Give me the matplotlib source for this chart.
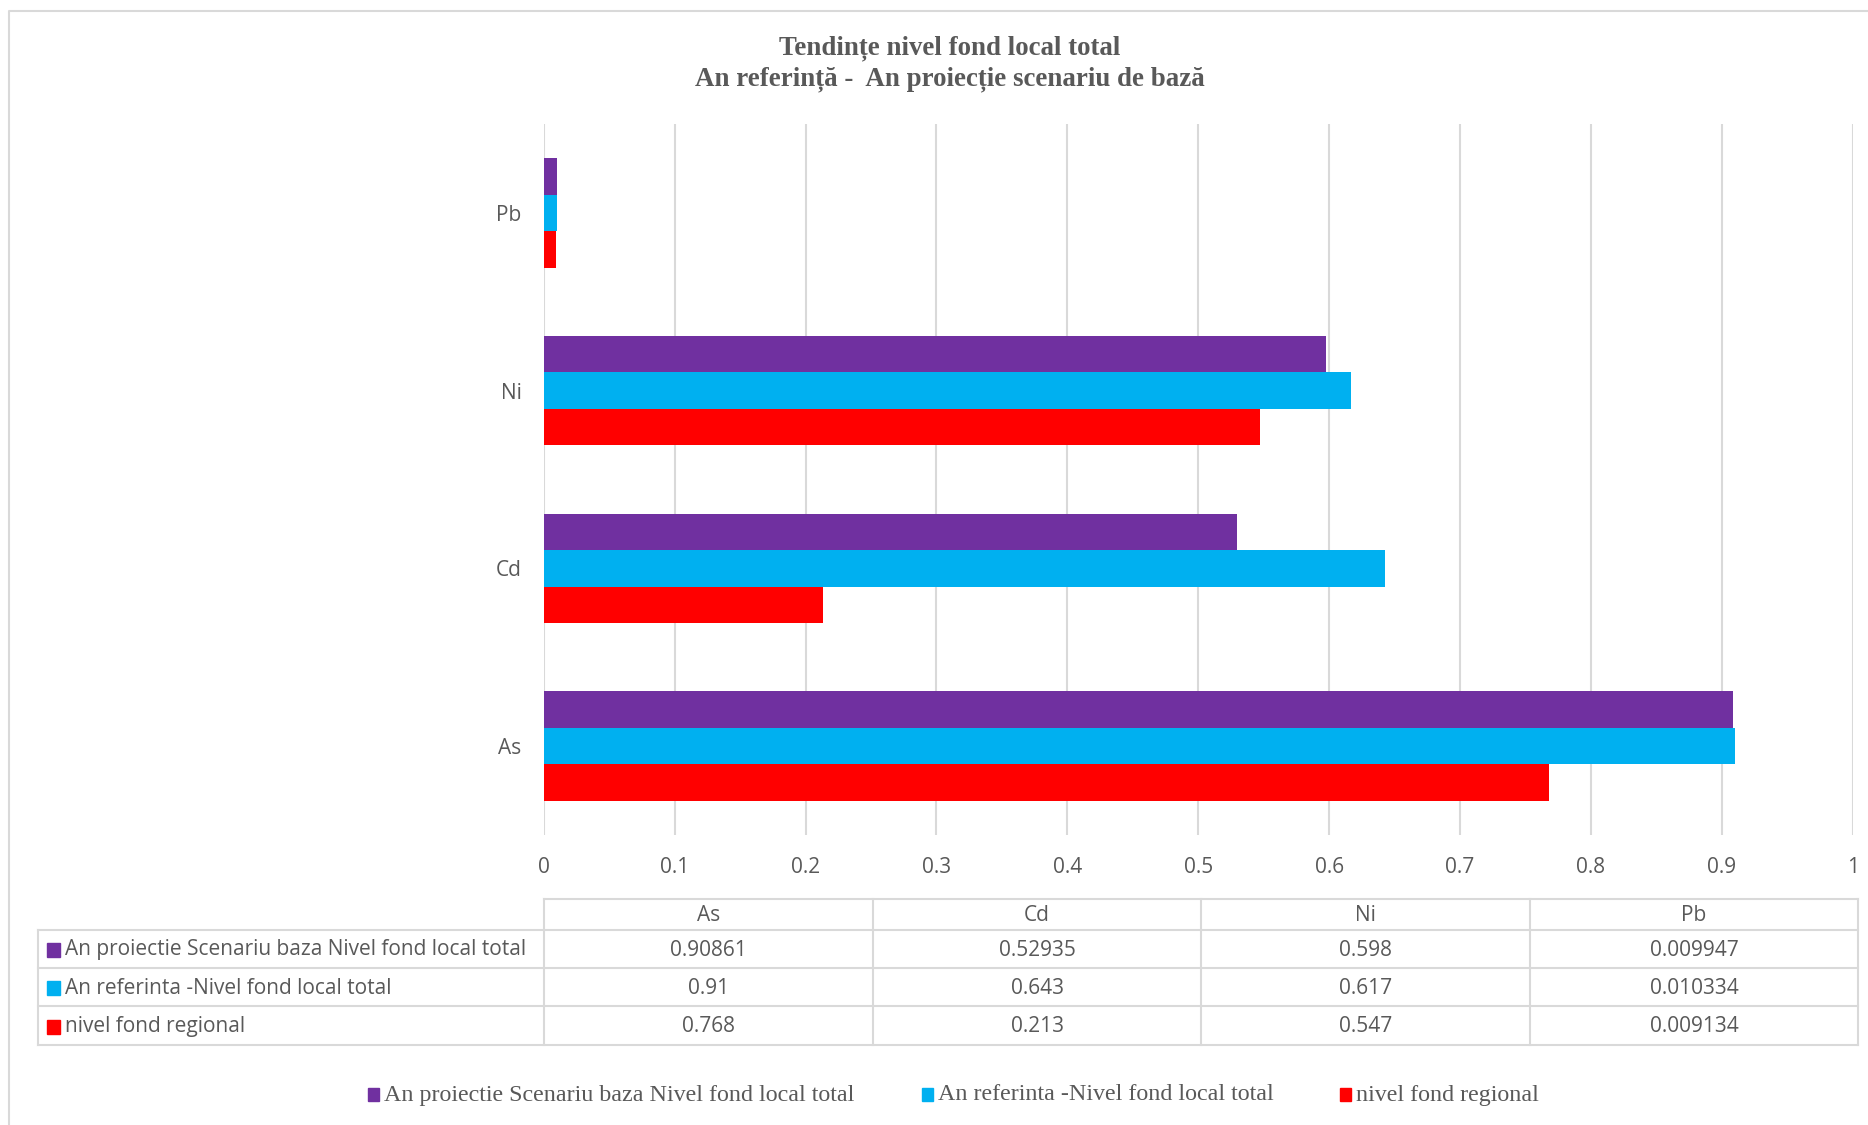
import matplotlib
matplotlib.use('Agg')
from matplotlib import pyplot as plt
from matplotlib.lines import Line2D
from matplotlib.patches import Rectangle
import numpy as np

# data
categories = ['As', 'Cd', 'Ni', 'Pb']
series_names = ['An proiectie Scenariu baza Nivel fond local total',
                'An referinta -Nivel fond local total',
                'nivel fond regional']
proiectie = [0.90861, 0.52935, 0.598, 0.009947]
referinta = [0.91, 0.643, 0.617, 0.010334]
regional = [0.768, 0.213, 0.547, 0.009134]
x_ticks = [0, 0.1, 0.2, 0.3, 0.4, 0.5, 0.6, 0.7, 0.8, 0.9, 1]
colors = ['#7030A0', '#00B0F0', '#FF0000']
series = [proiectie, referinta, regional]

W, H = 1868, 1125
TXT = '#595959'
GRID = '#D9D9D9'
sans = ['Open Sans', 'DejaVu Sans']
serif = ['Liberation Serif', 'DejaVu Serif']
FS = 15

fig = plt.figure(figsize=(W / 100, H / 100), dpi=100)

# overlay axes in pixel coords for table, legend, title, border
ov = fig.add_axes([0, 0, 1, 1])
ov.set_xlim(0, W)
ov.set_ylim(H, 0)
ov.axis('off')

# chart border
ov.add_line(Line2D([9, 9, W], [H, 11, 11], color=GRID, lw=1.5))

# title
ov.text(950, 48, 'Tendințe nivel fond local total', ha='center', va='center',
        fontsize=19.4, fontweight='bold', color=TXT, family=serif)
ov.text(950, 79, 'An referință -  An proiecție scenariu de bază', ha='center', va='center',
        fontsize=19.4, fontweight='bold', color=TXT, family=serif)

# bar chart
ax = fig.add_axes([543.7 / W, 1 - 835 / H, (1852.7 - 543.7) / W, 711 / H])
y = np.arange(len(categories))
h = 0.205
for i, (vals, c) in enumerate(zip(series, colors)):
    ax.barh(y + (1 - i) * h, vals, height=h, color=c, zorder=3)
ax.set_xlim(0, 1)
ax.set_ylim(-0.5, len(categories) - 0.5)
ax.set_xticks(x_ticks)
ax.set_xticklabels([('%g' % t) for t in x_ticks], fontsize=FS, color=TXT, family=sans)
ax.set_yticks(y)
ax.set_yticklabels(categories, fontsize=FS, color=TXT, family=sans)
ax.tick_params(axis='x', length=0, pad=16)
ax.tick_params(axis='y', length=0, pad=16)
ax.grid(axis='x', color=GRID, lw=1.5, zorder=0)
for s in ['top', 'right', 'bottom', 'left']:
    ax.spines[s].set_visible(False)

# data table
col_x = [544, 873, 1201, 1530, 1858]
row_y = [899, 930, 968, 1006, 1045]
lw = 1.5
ov.add_line(Line2D([544, 1858], [899, 899], color=GRID, lw=lw))
for yy in row_y[1:]:
    ov.add_line(Line2D([38, 1858], [yy, yy], color=GRID, lw=lw))
for xx in col_x:
    ov.add_line(Line2D([xx, xx], [899, 1045], color=GRID, lw=lw))
ov.add_line(Line2D([38, 38], [930, 1045], color=GRID, lw=lw))
for j, cat in enumerate(categories):
    ov.text((col_x[j] + col_x[j + 1]) / 2, (row_y[0] + row_y[1]) / 2 + 1, cat, ha='center', va='center',
            fontsize=FS, color=TXT, family=sans)
for i, (name, vals, c) in enumerate(zip(series_names, series, colors)):
    yc = (row_y[i + 1] + row_y[i + 2]) / 2 + 1
    ov.add_patch(Rectangle((47, yc - 7), 13, 14, color=c))
    ov.text(65, yc, name, ha='left', va='center', fontsize=FS, color=TXT, family=sans)
    for j, v in enumerate(vals):
        ov.text((col_x[j] + col_x[j + 1]) / 2, yc, repr(v), ha='center', va='center',
                fontsize=FS, color=TXT, family=sans)

# legend
leg_x = [368, 922, 1340]
for lx, name, c in zip(leg_x, series_names, colors):
    ov.add_patch(Rectangle((lx, 1088), 11, 13, color=c))
    ov.text(lx + 16, 1095, name, ha='left', va='center', fontsize=17.3, color=TXT, family=serif)

fig.savefig('out.png', dpi=100, facecolor='white')
